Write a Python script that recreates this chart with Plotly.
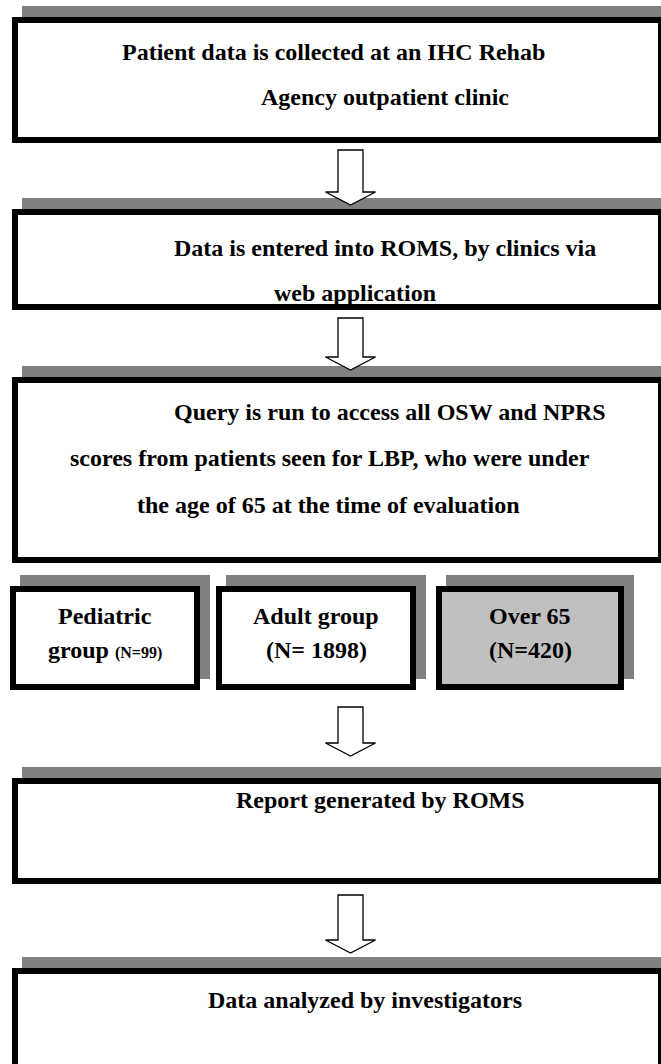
import plotly.graph_objects as go

# ---- data (text content of the flowchart) ----
step1_lines = ["Patient data is collected at an IHC Rehab", "Agency outpatient clinic"]
step2_lines = ["Data is entered into ROMS, by clinics via", "web application"]
step3_lines = ["Query is run to access all OSW and NPRS",
               "scores from patients seen for LBP, who were under",
               "the age of 65 at the time of evaluation"]
group_first = ["Pediatric", "Adult group", "Over 65"]
group_second = ["group", "", ""]
group_n = ["99", " 1898", "420"]
step4_lines = ["Report generated by ROMS"]
step5_lines = ["Data analyzed by investigators"]

# ---- layout (pixel coordinates, y downward) ----
W, H = 661, 1064
BW = 6              # border width
SDX, SDY = 10, -11  # shadow offset
SHADOW = "#808080"

big_boxes = [  # x0, x1, y0, y1 (outer edges)
    (12, 664, 17, 143),
    (12, 664, 209, 310),
    (12, 664, 377, 563),
    (12, 664, 778, 884),
    (12, 664, 968, 1080),
]
group_boxes = [
    (10, 200, 586, 690, "white"),
    (216, 416, 586, 690, "white"),
    (436, 624, 586, 690, "#c0c0c0"),
]
arrows = [  # top, head base, tip
    (150, 192, 205),
    (318, 357, 370),
    (707, 743, 756),
    (895, 940, 953),
]
AX, STEM, HEAD = 350.5, 12.5, 25

shapes = []

def add_box(x0, x1, y0, y1, fill):
    shapes.append(dict(type="rect", xref="x", yref="y", x0=x0 + SDX, x1=x1 + SDX,
                       y0=y0 + SDY, y1=y1 + SDY, fillcolor=SHADOW, line=dict(width=0), layer="below"))
    h = BW / 2
    shapes.append(dict(type="rect", xref="x", yref="y", x0=x0 + h, x1=x1 - h,
                       y0=y0 + h, y1=y1 - h, fillcolor=fill,
                       line=dict(color="black", width=BW), layer="below"))

for (x0, x1, y0, y1) in big_boxes:
    add_box(x0, x1, y0, y1, "white")
for (x0, x1, y0, y1, f) in group_boxes:
    add_box(x0, x1, y0, y1, f)

for (t, b, tip) in arrows:
    path = (f"M {AX-STEM},{t} L {AX+STEM},{t} L {AX+STEM},{b} L {AX+HEAD},{b} "
            f"L {AX},{tip} L {AX-HEAD},{b} L {AX-STEM},{b} Z")
    shapes.append(dict(type="path", xref="x", yref="y", path=path, fillcolor="white",
                       line=dict(color="black", width=1.3), layer="below"))

FONT = dict(family="Liberation Serif, Times New Roman, serif", size=24, color="black")
annotations = []

def add_text(txt, x, y, size=24):
    annotations.append(dict(x=x, y=y, xref="x", yref="y", text=f"<b>{txt}</b>", showarrow=False,
                            xanchor="center", yanchor="middle",
                            font=dict(FONT, size=size)))

for txt, x, y in zip(step1_lines, [333, 385], [52, 97]):
    add_text(txt, x, y)
for txt, x, y in zip(step2_lines, [385, 355], [248, 293]):
    add_text(txt, x, y)
for txt, x, y in zip(step3_lines, [390, 330, 328], [412, 458, 505]):
    add_text(txt, x, y)
for txt, x, y in zip(step4_lines, [380], [800]):
    add_text(txt, x, y)
for txt, x, y in zip(step5_lines, [365], [1000]):
    add_text(txt, x, y)

gx = [(b[0] + b[1]) / 2 for b in group_boxes]
for i in range(3):
    add_text(group_first[i], gx[i], 616)
    if group_second[i]:
        second = f"{group_second[i]} <span style='font-size:16px'>(N={group_n[i]})</span>"
    else:
        second = f"(N={group_n[i]})"
    add_text(second, gx[i], 650)

fig = go.Figure()
fig.update_layout(
    width=W, height=H, margin=dict(l=0, r=0, t=0, b=0),
    paper_bgcolor="white", plot_bgcolor="white",
    xaxis=dict(range=[0, W], visible=False, fixedrange=True),
    yaxis=dict(range=[H, 0], visible=False, fixedrange=True),
    shapes=shapes, annotations=annotations, showlegend=False,
)
fig.write_html(
    "out.html",
    config={"displayModeBar": False, "staticPlot": True},
    post_script="document.body.style.margin='0';document.body.style.overflow='hidden';",
)
